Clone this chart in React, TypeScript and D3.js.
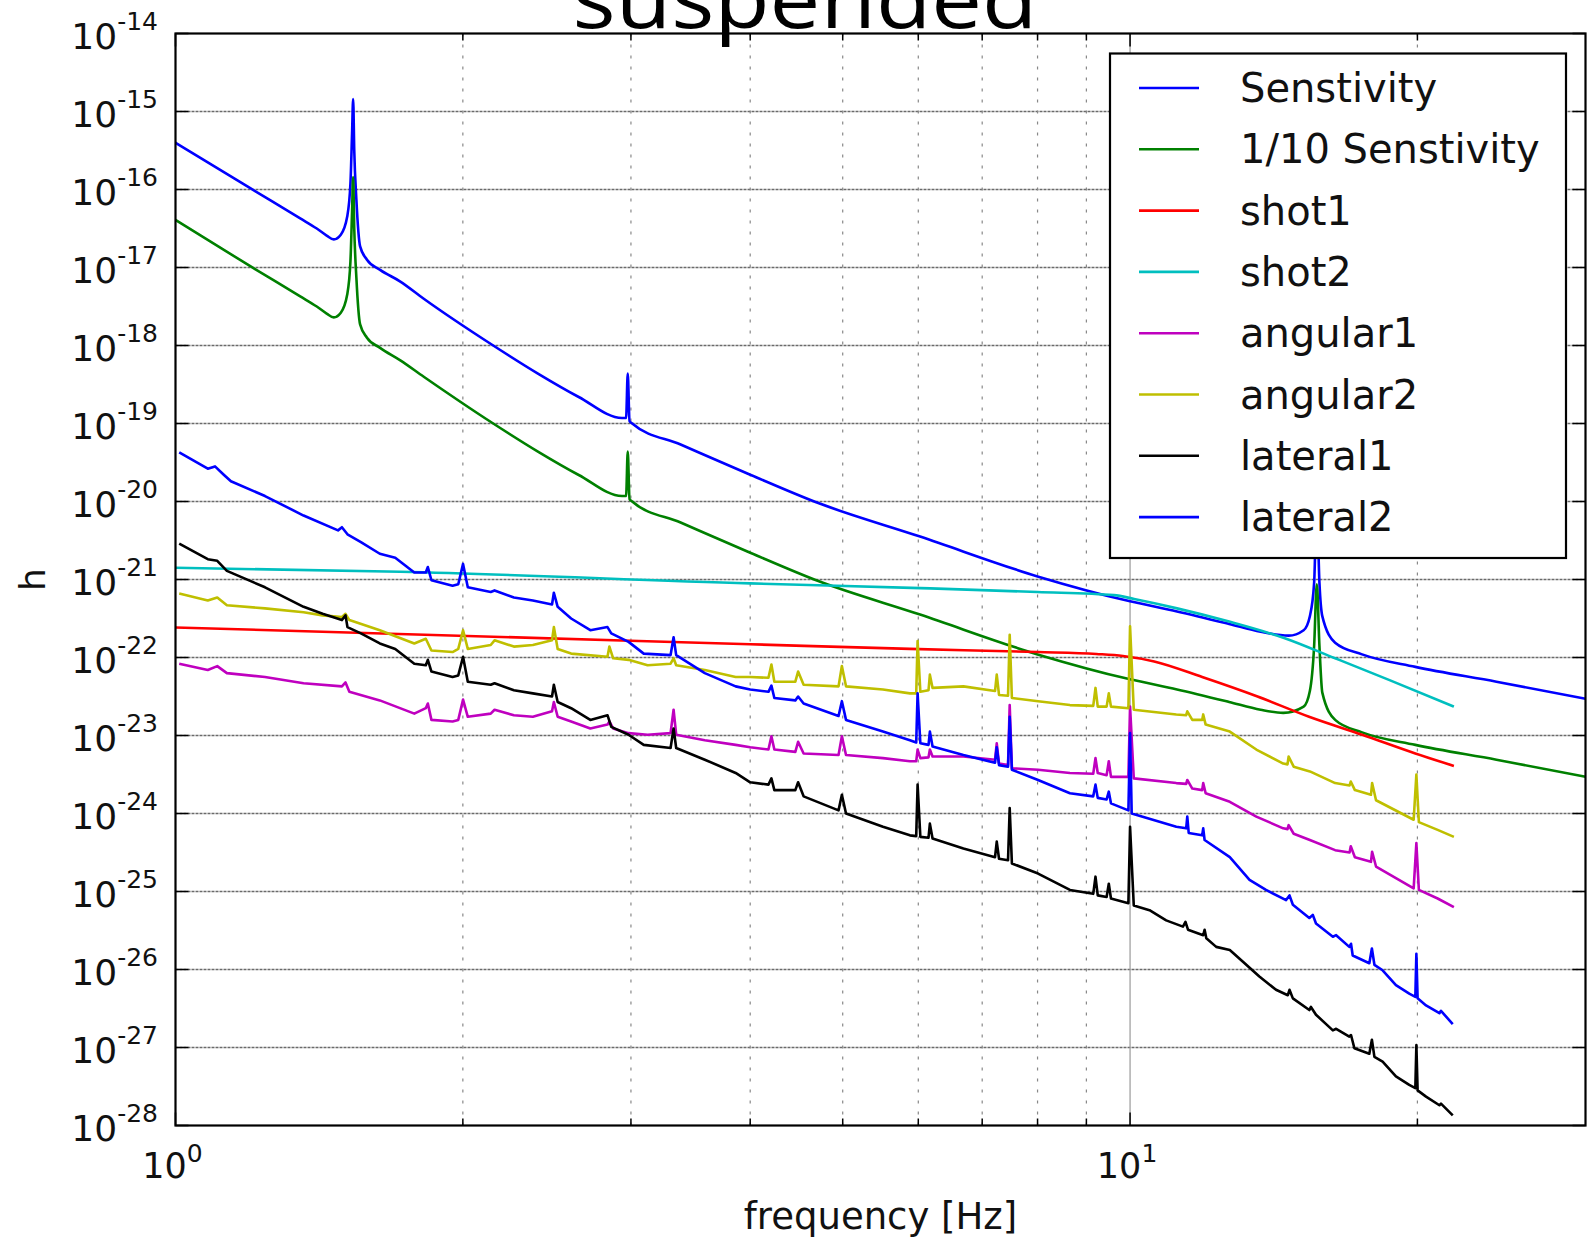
import { scaleLog, line, curveMonotoneX, curveLinear } from "d3";

const width = 1587;
const height = 1239;
const plot = { left: 175.5, right: 1585.5, top: 33.5, bottom: 1125.5 };

// axis ticks
const freqMajor = [1, 10];
const freqMinor = [2, 3, 4, 5, 6, 7, 8, 9, 20];
const hExponents = [-14, -15, -16, -17, -18, -19, -20, -21, -22, -23, -24, -25, -26, -27, -28];

// every series is [frequency in Hz, log10(h)]
const sensitivity = [
  [1.0, -15.40], [1.2, -15.99], [1.351, -16.37], [1.406, -16.50], [1.44, -16.59], [1.465, -16.64],
  [1.49, -16.58], [1.513, -16.35], [1.525, -15.92], [1.531, -15.28], [1.535, -14.84], [1.539, -15.49],
  [1.547, -16.13], [1.561, -16.73], [1.587, -16.90], [1.638, -17.03], [1.72, -17.18], [1.82, -17.40],
  [2.146, -17.99], [2.397, -18.36], [2.645, -18.66], [2.936, -18.93], [2.965, -18.93], [2.977, -18.36],
  [2.99, -18.97], [3.009, -19.00], [3.382, -19.27], [4.006, -19.66], [4.714, -20.02], [6.026, -20.45],
  [8.0, -20.96], [10.0, -21.28], [11.2, -21.41], [12.7, -21.57], [13.7, -21.67], [14.66, -21.72],
  [15.2, -21.65], [15.43, -21.47], [15.59, -21.04], [15.69, -20.06], [15.79, -21.04], [15.9, -21.47],
  [16.4, -21.81], [17.5, -21.96], [19.9, -22.12], [24.2, -22.31], [30.0, -22.53],
];

const tenthSensitivity = [
  [1.0, -16.39], [1.2, -16.99], [1.351, -17.37], [1.406, -17.50], [1.44, -17.59], [1.465, -17.64],
  [1.49, -17.58], [1.513, -17.35], [1.525, -16.92], [1.531, -16.28], [1.535, -15.84], [1.539, -16.49],
  [1.547, -17.13], [1.561, -17.73], [1.587, -17.90], [1.638, -18.03], [1.72, -18.19], [1.82, -18.40],
  [2.146, -18.99], [2.397, -19.36], [2.645, -19.66], [2.936, -19.93], [2.965, -19.93], [2.977, -19.36],
  [2.99, -19.97], [3.009, -20.00], [3.382, -20.27], [4.006, -20.66], [4.714, -21.02], [6.026, -21.45],
  [8.0, -21.96], [10.0, -22.28], [11.2, -22.41], [12.7, -22.57], [13.7, -22.67], [14.47, -22.71],
  [15.2, -22.63], [15.43, -22.43], [15.59, -21.85], [15.69, -21.06], [15.79, -21.85], [15.9, -22.45],
  [16.4, -22.80], [17.5, -22.96], [19.9, -23.12], [24.2, -23.31], [30.0, -23.53],
];

const shot1 = [
  [1.0, -21.615], [4.0, -21.83], [5.88, -21.89], [8.0, -21.93], [9.22, -21.955], [9.83, -21.98],
  [10.6, -22.05], [11.9, -22.25], [13.6, -22.50], [15.4, -22.76], [17.5, -22.99], [19.9, -23.23],
  [21.84, -23.39],
];

const shot2 = [
  [1.0, -20.85], [1.72, -20.90], [4.0, -21.05], [6.03, -21.11], [8.0, -21.16], [9.62, -21.20],
  [10.1, -21.25], [11.2, -21.37], [12.7, -21.54], [14.5, -21.75], [16.4, -22.01], [18.7, -22.29],
  [21.84, -22.63],
];

const angular1 = [
  [1.009, -22.08], [1.081, -22.16], [1.106, -22.11], [1.132, -22.20], [1.241, -22.25], [1.362, -22.33],
  [1.494, -22.37], [1.507, -22.32], [1.521, -22.44], [1.637, -22.55], [1.779, -22.72], [1.829, -22.65],
  [1.838, -22.59], [1.854, -22.80], [1.951, -22.82], [1.978, -22.80], [2.001, -22.54], [2.024, -22.76],
  [2.139, -22.72], [2.159, -22.67], [2.262, -22.74], [2.368, -22.76], [2.48, -22.69], [2.491, -22.57],
  [2.514, -22.76], [2.597, -22.82], [2.72, -22.91], [2.835, -22.86], [2.848, -22.82], [2.874, -22.91],
  [2.983, -22.97], [3.123, -22.99], [3.301, -22.97], [3.325, -22.67], [3.346, -22.99], [3.585, -23.06],
  [3.862, -23.12], [4.0, -23.15], [4.18, -23.18], [4.21, -23.01], [4.24, -23.18], [4.46, -23.21],
  [4.49, -23.08], [4.55, -23.23], [4.95, -23.25], [4.99, -23.01], [5.04, -23.25], [5.51, -23.29],
  [5.88, -23.33], [5.97, -23.33], [5.99, -23.18], [6.03, -23.29], [6.15, -23.28], [6.17, -23.18],
  [6.21, -23.27], [6.69, -23.27], [7.22, -23.31], [7.25, -23.10], [7.29, -23.36], [7.45, -23.38],
  [7.48, -22.61], [7.52, -23.42], [8.01, -23.44], [8.65, -23.48], [9.15, -23.49], [9.2, -23.29],
  [9.25, -23.48], [9.45, -23.51], [9.5, -23.33], [9.55, -23.53], [9.96, -23.53], [10.0, -22.63],
  [10.09, -23.55], [11.18, -23.61], [11.45, -23.62], [11.48, -23.57], [11.62, -23.68], [11.9, -23.70],
  [11.93, -23.61], [12.0, -23.74], [12.72, -23.85], [13.56, -24.04], [14.47, -24.19], [14.62, -24.20],
  [14.66, -24.15], [14.84, -24.26], [15.43, -24.34], [16.4, -24.47], [16.98, -24.50], [17.03, -24.42],
  [17.2, -24.56], [17.88, -24.62], [17.93, -24.49], [18.1, -24.68], [19.82, -24.96], [19.95, -24.38],
  [20.07, -24.98], [21.0, -25.09], [21.84, -25.20],
];

const angular2 = [
  [1.009, -21.18], [1.081, -21.27], [1.106, -21.23], [1.132, -21.33], [1.241, -21.37], [1.362, -21.42],
  [1.426, -21.46], [1.494, -21.48], [1.507, -21.44], [1.521, -21.52], [1.637, -21.65], [1.779, -21.82],
  [1.829, -21.76], [1.854, -21.91], [1.951, -21.93], [1.978, -21.89], [2.001, -21.65], [2.024, -21.89],
  [2.139, -21.84], [2.159, -21.78], [2.262, -21.86], [2.368, -21.84], [2.48, -21.78], [2.491, -21.61],
  [2.514, -21.89], [2.597, -21.95], [2.835, -21.99], [2.848, -21.86], [2.874, -22.01], [2.983, -22.03],
  [3.123, -22.10], [3.301, -22.08], [3.325, -22.01], [3.346, -22.10], [3.585, -22.16], [3.862, -22.25],
  [4.0, -22.25], [4.18, -22.26], [4.21, -22.09], [4.24, -22.31], [4.46, -22.31], [4.49, -22.18],
  [4.55, -22.35], [4.95, -22.37], [4.99, -22.11], [5.04, -22.37], [5.51, -22.41], [5.88, -22.46],
  [5.97, -22.46], [5.99, -21.79], [6.03, -22.44], [6.15, -22.42], [6.17, -22.22], [6.21, -22.39],
  [6.69, -22.37], [7.22, -22.43], [7.25, -22.22], [7.29, -22.48], [7.45, -22.49], [7.48, -21.71],
  [7.52, -22.52], [8.01, -22.56], [8.65, -22.61], [9.15, -22.62], [9.2, -22.39], [9.25, -22.63],
  [9.45, -22.63], [9.5, -22.46], [9.55, -22.63], [9.96, -22.65], [10.0, -21.60], [10.09, -22.67],
  [11.18, -22.73], [11.45, -22.74], [11.48, -22.69], [11.62, -22.80], [11.9, -22.80], [11.93, -22.73],
  [12.0, -22.86], [12.72, -22.95], [13.56, -23.18], [14.47, -23.36], [14.62, -23.37], [14.66, -23.27],
  [14.84, -23.40], [15.43, -23.46], [16.4, -23.61], [16.98, -23.64], [17.03, -23.59], [17.2, -23.70],
  [17.88, -23.76], [17.93, -23.61], [18.1, -23.83], [19.82, -24.08], [19.95, -23.50], [20.07, -24.11],
  [21.0, -24.21], [21.84, -24.30],
];

const lateral1 = [
  [1.009, -20.54], [1.081, -20.74], [1.106, -20.76], [1.132, -20.89], [1.241, -21.10], [1.362, -21.35],
  [1.426, -21.44], [1.494, -21.52], [1.507, -21.46], [1.514, -21.61], [1.564, -21.69], [1.637, -21.82],
  [1.699, -21.89], [1.779, -22.08], [1.829, -22.10], [1.838, -22.03], [1.854, -22.18], [1.951, -22.25],
  [1.978, -22.23], [2.001, -21.99], [2.024, -22.31], [2.139, -22.35], [2.159, -22.33], [2.262, -22.42],
  [2.368, -22.46], [2.48, -22.50], [2.491, -22.35], [2.514, -22.57], [2.597, -22.65], [2.72, -22.80],
  [2.835, -22.74], [2.861, -22.89], [2.983, -22.99], [3.094, -23.12], [3.301, -23.16], [3.325, -22.91],
  [3.346, -23.16], [3.585, -23.31], [3.862, -23.48], [4.0, -23.60], [4.18, -23.63], [4.21, -23.55],
  [4.24, -23.70], [4.46, -23.70], [4.49, -23.60], [4.55, -23.78], [4.95, -23.96], [4.99, -23.76],
  [5.04, -24.00], [5.51, -24.17], [5.88, -24.28], [5.97, -24.29], [5.99, -23.63], [6.03, -24.30],
  [6.15, -24.31], [6.17, -24.13], [6.21, -24.32], [6.69, -24.45], [7.22, -24.56], [7.25, -24.36],
  [7.29, -24.58], [7.45, -24.60], [7.48, -23.93], [7.52, -24.64], [8.01, -24.77], [8.65, -24.98],
  [9.15, -25.03], [9.2, -24.81], [9.25, -25.05], [9.45, -25.07], [9.5, -24.90], [9.55, -25.09],
  [9.96, -25.15], [10.0, -24.17], [10.09, -25.18], [10.48, -25.24], [10.91, -25.37], [11.36, -25.45],
  [11.43, -25.39], [11.5, -25.49], [11.93, -25.56], [11.97, -25.49], [12.02, -25.60], [12.31, -25.71],
  [12.72, -25.75], [13.13, -25.90], [13.66, -26.09], [14.22, -26.26], [14.63, -26.33], [14.69, -26.26],
  [14.81, -26.37], [15.41, -26.52], [15.47, -26.48], [15.66, -26.58], [16.31, -26.78], [16.44, -26.76],
  [16.97, -26.86], [17.04, -26.84], [17.18, -27.01], [17.81, -27.08], [17.92, -26.90], [18.03, -27.12],
  [18.39, -27.18], [18.99, -27.37], [19.61, -27.48], [19.9, -27.52], [19.95, -26.97], [20.01, -27.55],
  [20.42, -27.63], [21.09, -27.74], [21.17, -27.72], [21.78, -27.87],
];

const lateral2 = [
  [1.009, -19.37], [1.081, -19.58], [1.10, -19.55], [1.122, -19.65], [1.143, -19.74], [1.241, -19.93],
  [1.362, -20.18], [1.48, -20.37], [1.494, -20.33], [1.514, -20.42], [1.564, -20.52], [1.637, -20.67],
  [1.699, -20.72], [1.779, -20.91], [1.829, -20.91], [1.838, -20.84], [1.854, -21.01], [1.951, -21.08],
  [1.978, -21.06], [2.001, -20.80], [2.024, -21.10], [2.139, -21.16], [2.159, -21.14], [2.262, -21.23],
  [2.368, -21.27], [2.48, -21.32], [2.491, -21.17], [2.514, -21.35], [2.597, -21.50], [2.72, -21.65],
  [2.835, -21.61], [2.861, -21.69], [2.983, -21.80], [3.094, -21.95], [3.301, -21.97], [3.325, -21.74],
  [3.346, -21.97], [3.585, -22.20], [3.862, -22.37], [4.0, -22.41], [4.18, -22.44], [4.21, -22.36],
  [4.24, -22.52], [4.46, -22.55], [4.49, -22.50], [4.55, -22.59], [4.95, -22.75], [4.99, -22.56],
  [5.04, -22.80], [5.51, -22.95], [5.88, -23.06], [5.97, -23.09], [5.99, -22.46], [6.03, -23.10],
  [6.15, -23.12], [6.17, -22.95], [6.21, -23.14], [6.69, -23.25], [7.22, -23.35], [7.25, -23.15],
  [7.29, -23.38], [7.45, -23.40], [7.48, -22.76], [7.52, -23.44], [8.01, -23.57], [8.65, -23.74],
  [9.15, -23.78], [9.2, -23.63], [9.25, -23.80], [9.45, -23.82], [9.5, -23.72], [9.55, -23.87],
  [9.96, -23.96], [10.0, -22.97], [10.04, -24.00], [11.18, -24.17], [11.45, -24.19], [11.48, -24.04],
  [11.52, -24.25], [11.9, -24.28], [11.93, -24.19], [11.97, -24.34], [12.72, -24.56], [13.34, -24.85],
  [13.88, -24.98], [14.57, -25.11], [14.69, -25.05], [14.81, -25.17], [15.41, -25.34], [15.54, -25.30],
  [15.66, -25.41], [16.31, -25.58], [16.44, -25.56], [16.97, -25.71], [17.04, -25.67], [17.11, -25.82],
  [17.81, -25.92], [17.92, -25.73], [18.03, -25.94], [18.39, -26.01], [18.99, -26.20], [19.61, -26.31],
  [19.9, -26.35], [19.95, -25.80], [20.01, -26.37], [20.42, -26.46], [21.09, -26.56], [21.17, -26.53],
  [21.78, -26.70],
];

const seriesNames = ["Senstivity", "1/10 Senstivity", "shot1", "shot2", "angular1", "angular2", "lateral1", "lateral2"];
const seriesColors = ["#0000ff", "#008000", "#ff0000", "#00bfbf", "#bf00bf", "#bfbf00", "#000000", "#0000ff"];
const seriesData = [sensitivity, tenthSensitivity, shot1, shot2, angular1, angular2, lateral1, lateral2];
// the model curves are smooth, the measured ones are drawn point to point
const seriesSmooth = [true, true, true, true, false, false, false, false];

const font = "DejaVu Sans, Verdana, sans-serif";

export default function App() {
  const xScale = scaleLog().domain([1, 30]).range([plot.left, plot.right]);
  const yScale = scaleLog().domain([1e-28, 1e-14]).range([plot.bottom, plot.top]);

  const makePath = (smooth: boolean) =>
    line<number[]>()
      .x(d => xScale(d[0]))
      .y(d => yScale(Math.pow(10, d[1])))
      .curve(smooth ? curveMonotoneX : curveLinear);

  const legendX = 1110;
  const legendY = 53.5;
  const rowGap = 61.3;

  return (
    <svg width={width} height={height} style={{ position: "absolute", left: 0, top: 0, background: "#fff" }}>
      <defs>
        <clipPath id="plotClip">
          <rect x={plot.left} y={plot.top} width={plot.right - plot.left} height={plot.bottom - plot.top} />
        </clipPath>
      </defs>

      {/* grid */}
      {hExponents.slice(1, -1).map(e => (
        <line key={"hg" + e} x1={plot.left} x2={plot.right} y1={yScale(Math.pow(10, e))} y2={yScale(Math.pow(10, e))}
          stroke="#6a6a6a" strokeWidth={1.5} strokeDasharray="3,1" />
      ))}
      {freqMinor.map(f => (
        <line key={"vg" + f} x1={xScale(f)} x2={xScale(f)} y1={plot.top} y2={plot.bottom}
          stroke="#888" strokeWidth={1.2} strokeDasharray="3,8" />
      ))}
      <line x1={xScale(10)} x2={xScale(10)} y1={plot.top} y2={plot.bottom} stroke="#999" strokeWidth={1.2} />

      {/* curves */}
      <g clipPath="url(#plotClip)" fill="none" strokeWidth={2.6} strokeLinejoin="round">
        {seriesData.map((d, i) => (
          <path key={seriesNames[i]} d={makePath(seriesSmooth[i])(d) || ""} stroke={seriesColors[i]} />
        ))}
      </g>

      {/* ticks */}
      {hExponents.map(e => {
        const y = yScale(Math.pow(10, e));
        return (
          <g key={"ht" + e} stroke="#000" strokeWidth={1.5}>
            <line x1={plot.left} x2={plot.left + 13} y1={y} y2={y} />
            <line x1={plot.right - 13} x2={plot.right} y1={y} y2={y} />
          </g>
        );
      })}
      {freqMajor.map(f => (
        <g key={"ft" + f} stroke="#000" strokeWidth={1.5}>
          <line x1={xScale(f)} x2={xScale(f)} y1={plot.bottom} y2={plot.bottom - 13} />
          <line x1={xScale(f)} x2={xScale(f)} y1={plot.top} y2={plot.top + 13} />
        </g>
      ))}
      {freqMinor.map(f => (
        <g key={"fm" + f} stroke="#000" strokeWidth={1.5}>
          <line x1={xScale(f)} x2={xScale(f)} y1={plot.bottom} y2={plot.bottom - 7} />
          <line x1={xScale(f)} x2={xScale(f)} y1={plot.top} y2={plot.top + 7} />
        </g>
      ))}

      {/* frame */}
      <rect x={plot.left} y={plot.top} width={plot.right - plot.left} height={plot.bottom - plot.top}
        fill="none" stroke="#000" strokeWidth={2.2} />

      {/* y tick labels */}
      {hExponents.map(e => (
        <text key={"hl" + e} x={158} y={yScale(Math.pow(10, e)) + 15} textAnchor="end"
          fontFamily={font} fontSize={36} fill="#111">
          10<tspan dy={-19} fontSize={25}>{`${e}`}</tspan>
        </text>
      ))}

      {/* x tick labels */}
      {freqMajor.map(f => (
        <text key={"fl" + f} x={xScale(f) - 3} y={1178} textAnchor="middle" fontFamily={font} fontSize={35} fill="#111">
          10<tspan dy={-16} fontSize={25}>{`${Math.round(Math.log10(f))}`}</tspan>
        </text>
      ))}

      {/* axis labels */}
      <text x={(plot.left + plot.right) / 2} y={1229} textAnchor="middle" fontFamily={font} fontSize={37} fill="#111">
        frequency [Hz]
      </text>
      <text transform={`translate(45, ${(plot.top + plot.bottom) / 2}) rotate(-90)`} textAnchor="middle"
        fontFamily={font} fontSize={36} fill="#111">
        h
      </text>

      {/* legend */}
      <rect x={legendX} y={legendY} width={456} height={504.5} fill="#fff" stroke="#000" strokeWidth={2.2} />
      {seriesNames.map((name, i) => {
        const y = 88 + i * rowGap;
        return (
          <g key={"lg" + name}>
            <line x1={1139} x2={1199} y1={y} y2={y} stroke={seriesColors[i]} strokeWidth={2.6} />
            <text x={1240} y={y + 14} fontFamily={font} fontSize={40} fill="#111">{name}</text>
          </g>
        );
      })}

      {/* title, cut off at the top edge exactly as in the source figure */}
      <text x={805} y={28} textAnchor="middle" fontFamily="Open Sans, sans-serif" fontSize={80}
        textLength={465} lengthAdjust="spacingAndGlyphs" fill="#000">
        suspended
      </text>
    </svg>
  );
}
